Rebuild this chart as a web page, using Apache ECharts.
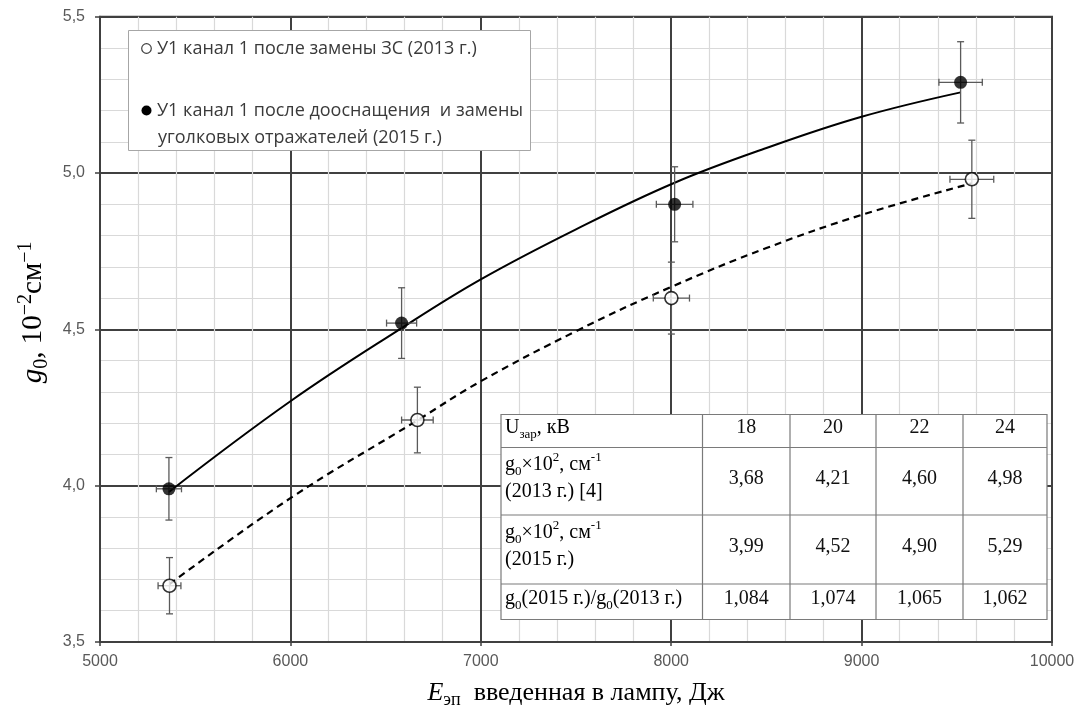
<!DOCTYPE html>
<html>
<head>
<meta charset="utf-8">
<script src="https://cdn.jsdelivr.net/npm/echarts@6/dist/echarts.min.js"></script>
<style>
  html, body { margin: 0; padding: 0; background: #ffffff; }
  #chart { width: 1076px; height: 706px; }
</style>
</head>
<body>
<div id="chart"></div>
<script>
// Charging voltage, kV (table header)
const voltages = [18, 20, 22, 24];
// Gain coefficient g0 x 10^2, cm^-1
const g2013 = [3.68, 4.21, 4.60, 4.98];
const g2015 = [3.99, 4.52, 4.90, 5.29];
// g0(2015) / g0(2013)
const gainRatio = [1.084, 1.074, 1.065, 1.062];
// Electrical energy delivered to the lamp, J
const energy2013 = [5365, 6667, 8001, 9579];
const energy2015 = [5362, 6584, 8018, 9520];
// Error half-widths: energy (J) and gain
const errE2013 = [60, 83, 95, 115];
const errE2015 = [66, 79, 96, 114];
const errG2013 = [0.09, 0.105, 0.115, 0.125];
const errG2015 = [0.10, 0.113, 0.12, 0.13];
// Trend curves
const trendE2015 = [5362, 6000, 6584, 7000, 7500, 8018, 8500, 9000, 9520];
const trendG2015 = [3.98, 4.27, 4.504, 4.66, 4.82, 4.969, 5.08, 5.18, 5.258];
const trendE2013 = [5365, 6000, 6667, 7000, 7500, 8001, 8500, 9000, 9579];
const trendG2013 = [3.685, 3.96, 4.209, 4.334, 4.494, 4.636, 4.76, 4.866, 4.967];
// Axis ticks
const xTicks = [5000, 6000, 7000, 8000, 9000, 10000];
const yTicks = [3.5, 4.0, 4.5, 5.0, 5.5];

const name2013 = 'У1 канал 1 после замены ЗС (2013 г.)';
const name2015a = 'У1 канал 1 после дооснащения  и замены';
const name2015b = 'уголковых отражателей (2015 г.)';

const serif = '"Liberation Serif", "Times New Roman", serif';
const sans = '"Liberation Sans", Arial, sans-serif';
const legendFont = '"Open Sans", "Noto Sans", sans-serif';

const zip = (a, b) => a.map((v, i) => [v, b[i]]);
const fmt = (v, d) => v.toFixed(d).replace('.', ',');

// rich-text styles with sub/superscripts for a given base size and line height
function richSet(fs, lh, color, smallRatio) {
  const small = Math.round(fs * (smallRatio || 0.62));
  return {
    n: { fontSize: fs, lineHeight: lh, fontFamily: serif, color: color },
    i: { fontSize: fs, lineHeight: lh, fontFamily: serif, fontStyle: 'italic', color: color },
    sub: { fontSize: small, lineHeight: Math.round(lh - 0.56 * fs), verticalAlign: 'bottom', fontFamily: serif, color: color },
    sup: { fontSize: small, lineHeight: Math.round(lh - 0.44 * fs), verticalAlign: 'top', fontFamily: serif, color: color }
  };
}

// error bars: vertical (gain) and horizontal (energy) whiskers with caps
function renderErrorBar(params, api) {
  const x = api.value(0), y = api.value(1), ex = api.value(2), ey = api.value(3);
  const top = api.coord([x, y + ey]);
  const bot = api.coord([x, y - ey]);
  const lft = api.coord([x - ex, y]);
  const rgt = api.coord([x + ex, y]);
  const cap = 3.5;
  const style = { stroke: '#5a5a5a', lineWidth: 1.3, fill: null };
  const seg = (x1, y1, x2, y2) => ({ type: 'line', shape: { x1, y1, x2, y2 }, style });
  return {
    type: 'group',
    children: [
      seg(top[0], top[1], bot[0], bot[1]),
      seg(top[0] - cap, top[1], top[0] + cap, top[1]),
      seg(bot[0] - cap, bot[1], bot[0] + cap, bot[1]),
      seg(lft[0], lft[1], rgt[0], rgt[1]),
      seg(lft[0], lft[1] - cap, lft[0], lft[1] + cap),
      seg(rgt[0], rgt[1] - cap, rgt[0], rgt[1] + cap)
    ]
  };
}

const errData = energy2013.map((e, i) => [e, g2013[i], errE2013[i], errG2013[i]])
  .concat(energy2015.map((e, i) => [e, g2015[i], errE2015[i], errG2015[i]]));

const TOP_Z = 100;

// ---- data table drawn inside the plot ----
const colX = [501, 702.5, 790, 876, 963, 1047];
const rowY = [414.5, 447.5, 515, 584, 619.5];
const tFs = 20, tLh = 27;
const tRich = richSet(tFs, tLh, '#111', 0.66);
const rowLabels = [
  '{n|U}{sub|зар}{n|, кВ}',
  '{n|g}{sub|0}{n|×10}{sup|2}{n|, см}{sup|-1}\n{n|(2013 г.) [4]}',
  '{n|g}{sub|0}{n|×10}{sup|2}{n|, см}{sup|-1}\n{n|(2015 г.)}',
  '{n|g}{sub|0}{n|(2015 г.)/g}{sub|0}{n|(2013 г.)}'
];
const rowValues = [
  voltages.map(v => String(v)),
  g2013.map(v => fmt(v, 2)),
  g2015.map(v => fmt(v, 2)),
  gainRatio.map(v => fmt(v, 3))
];
const tableChildren = [{
  type: 'rect', z: TOP_Z,
  shape: { x: colX[0], y: rowY[0], width: colX[5] - colX[0], height: rowY[4] - rowY[0] },
  style: { fill: '#ffffff', stroke: '#7a7a7a', lineWidth: 1.2 }
}];
for (let c = 1; c < colX.length - 1; c++) {
  tableChildren.push({ type: 'line', z: TOP_Z, shape: { x1: colX[c], y1: rowY[0], x2: colX[c], y2: rowY[4] },
    style: { stroke: '#7a7a7a', lineWidth: 1.2 } });
}
for (let r = 1; r < rowY.length - 1; r++) {
  tableChildren.push({ type: 'line', z: TOP_Z, shape: { x1: colX[0], y1: rowY[r], x2: colX[5], y2: rowY[r] },
    style: { stroke: '#7a7a7a', lineWidth: 1.2 } });
}
rowLabels.forEach((lab, r) => {
  const cy = (rowY[r] + rowY[r + 1]) / 2 - 3;
  tableChildren.push({ type: 'text', z: TOP_Z, x: colX[0] + 4, y: cy,
    style: { text: lab, rich: tRich, align: 'left', verticalAlign: 'middle' } });
  rowValues[r].forEach((val, c) => {
    tableChildren.push({ type: 'text', z: TOP_Z, x: (colX[c + 1] + colX[c + 2]) / 2, y: cy,
      style: { text: val, fontFamily: serif, fontSize: tFs, fill: '#111', align: 'center', verticalAlign: 'middle' } });
  });
});

// ---- legend box ----
const lgFs = 18;
const legendChildren = [
  { type: 'rect', z: TOP_Z, shape: { x: 128.5, y: 30.5, width: 402, height: 120 },
    style: { fill: '#ffffff', stroke: '#a6a6a6', lineWidth: 1 } },
  { type: 'circle', z: TOP_Z, shape: { cx: 146.5, cy: 48.5, r: 4.8 },
    style: { fill: '#ffffff', stroke: '#404040', lineWidth: 1.2 } },
  { type: 'text', z: TOP_Z, x: 157, y: 48.5,
    style: { text: name2013, fontFamily: legendFont, fontSize: lgFs, fill: '#3a3a3a', verticalAlign: 'middle' } },
  { type: 'circle', z: TOP_Z, shape: { cx: 146.5, cy: 110.5, r: 5 },
    style: { fill: '#000000' } },
  { type: 'text', z: TOP_Z, x: 157, y: 110.5,
    style: { text: name2015a, fontFamily: legendFont, fontSize: lgFs, fill: '#3a3a3a', verticalAlign: 'middle' } },
  { type: 'text', z: TOP_Z, x: 158, y: 137.5,
    style: { text: name2015b, fontFamily: legendFont, fontSize: lgFs, fill: '#3a3a3a', verticalAlign: 'middle' } }
];

const chart = echarts.init(document.getElementById('chart'));
chart.setOption({
  animation: false,
  backgroundColor: '#ffffff',
  grid: {
    left: 100, right: 24, top: 16.7, bottom: 64,
    outerBoundsMode: 'none', containLabel: false,
    show: true, borderColor: '#404040', borderWidth: 2, backgroundColor: 'transparent'
  },
  xAxis: {
    type: 'value',
    min: xTicks[0], max: xTicks[xTicks.length - 1], interval: xTicks[1] - xTicks[0],
    name: '{i|E}{sub|эп}{n|  введенная в лампу, Дж}',
    nameLocation: 'middle', nameGap: 35,
    nameTextStyle: { rich: richSet(26, 32, '#000', 0.7) },
    axisLine: { show: true, lineStyle: { color: '#404040', width: 2 } },
    axisTick: { show: true, length: 4, inside: false, lineStyle: { color: '#404040', width: 1.5 } },
    axisLabel: { margin: 12, fontFamily: sans, fontSize: 16, color: '#595959', formatter: v => String(v) },
    splitLine: { show: true, lineStyle: { color: '#404040', width: 2 } },
    minorTick: { show: false, splitNumber: 5 },
    minorSplitLine: { show: true, lineStyle: { color: '#d9d9d9', width: 1.2 } }
  },
  yAxis: {
    type: 'value',
    min: yTicks[0], max: yTicks[yTicks.length - 1], interval: yTicks[1] - yTicks[0],
    name: '{i|g}{sub|0}{n|, 10}{sup|−2}{n|см}{sup|−1}',
    nameLocation: 'middle', nameRotate: 90, nameGap: 42,
    nameTextStyle: { rich: richSet(29, 36, '#000', 0.68), padding: [0, 0, 0, 34] },
    axisLine: { show: true, lineStyle: { color: '#404040', width: 2 } },
    axisTick: { show: true, length: 5, inside: false, lineStyle: { color: '#404040', width: 1.5 } },
    axisLabel: { margin: 15, fontFamily: sans, fontSize: 16, color: '#595959', formatter: v => fmt(v, 1) },
    splitLine: { show: true, lineStyle: { color: '#404040', width: 2 } },
    minorTick: { show: false, splitNumber: 5 },
    minorSplitLine: { show: true, lineStyle: { color: '#d9d9d9', width: 1.2 } }
  },
  series: [
    {
      name: 'trend 2015', type: 'line', data: zip(trendE2015, trendG2015),
      smooth: 0.4, symbol: 'none', z: 3,
      lineStyle: { color: '#000', width: 2 }
    },
    {
      name: 'trend 2013', type: 'line', data: zip(trendE2013, trendG2013),
      smooth: 0.4, symbol: 'none', z: 3,
      lineStyle: { color: '#000', width: 2.2, type: [7, 5] }
    },
    {
      name: 'errors', type: 'custom', data: errData, z: 4,
      encode: { x: 0, y: 1 }, renderItem: renderErrorBar
    },
    {
      name: name2013, type: 'scatter', data: zip(energy2013, g2013), z: 5,
      symbol: 'circle', symbolSize: 13,
      itemStyle: { color: '#ffffff', borderColor: '#000', borderWidth: 1.6 }
    },
    {
      name: name2015a + ' ' + name2015b, type: 'scatter', data: zip(energy2015, g2015), z: 5,
      symbol: 'circle', symbolSize: 13,
      itemStyle: { color: '#000000' }
    }
  ],
  graphic: [
    { type: 'group', z: TOP_Z, children: legendChildren },
    { type: 'group', z: TOP_Z, children: tableChildren }
  ]
});
</script>
</body>
</html>
